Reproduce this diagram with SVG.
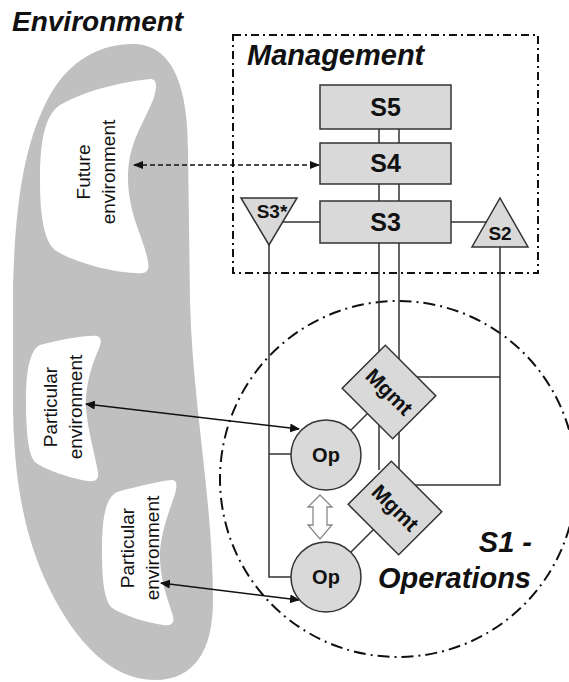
<svg xmlns="http://www.w3.org/2000/svg" width="569" height="682" viewBox="0 0 569 682">
<defs>
<style>
.title{font-family:"Liberation Sans",Arial,sans-serif;font-weight:bold;font-style:italic;fill:#111}
.env{font-family:"Liberation Sans",Arial,sans-serif;font-size:19px;fill:#111;text-anchor:middle}
.lbl{font-family:"Liberation Sans",Arial,sans-serif;font-weight:bold;fill:#111;text-anchor:middle}
.node{fill:#d9d9d9;stroke:#333;stroke-width:1.5}
.ln{stroke:#333;stroke-width:1.5;fill:none}
.arr{stroke:#111;stroke-width:1.6;fill:none}
</style>
<marker id="ah" viewBox="0 0 10 10" refX="9" refY="5" markerWidth="10" markerHeight="10" markerUnits="userSpaceOnUse" orient="auto-start-reverse">
<path d="M0,0.5 L10,5 L0,9.5 Z" fill="#111"/>
</marker>
<marker id="ahs" viewBox="0 0 10 10" refX="9" refY="5" markerWidth="10" markerHeight="10" markerUnits="userSpaceOnUse" orient="auto-start-reverse">
<path d="M0,1 L10,5 L0,9 Z" fill="#111"/>
</marker>
</defs>
<rect width="569" height="682" fill="#fff"/>

<g id="environment">
<path d="M133,44 C172,44 188,85 188,150 L190,300 C192,400 213,500 213,600 C213,650 195,680 155,680 C110,680 75,640 50,590 C25,540 13,480 13,400 L13,290 C15,200 25,140 50,95 C70,60 100,44 133,44 Z" fill="#c0c0c0"/>
<text class="title" x="12" y="31" font-size="28">Environment</text>
</g>

<g id="future-env">
<path d="M60,105 C90,88 130,81 150,79 C158,79 157,88 153,100 C143,125 128,143 128,178 C128,215 145,240 148,262 C150,272 145,274 135,273 C110,272 75,262 58,252 C45,245 40,220 40,180 C40,140 45,115 60,105 Z" fill="#fff"/>
<g transform="translate(90,172) rotate(-90)">
<text class="env" x="0" y="0">Future</text>
<text class="env" x="0" y="25">environment</text>
</g>
</g>

<g id="particular-env-1">
<path d="M40,345 C60,340 85,335 97,336 C103,337 101,345 97,353 C90,370 85,390 86,407 C87,427 95,455 98,472 C99,480 95,482 88,481 C70,478 45,470 35,462 C28,455 26,430 26,400 C26,370 30,350 40,345 Z" fill="#fff"/>
<g transform="translate(57,407) rotate(-90)">
<text class="env" x="0" y="0">Particular</text>
<text class="env" x="0" y="25">environment</text>
</g>
</g>

<g id="particular-env-2">
<path d="M117,492 C135,487 160,481 172,480 C178,480 177,488 174,497 C166,520 159,540 160,560 C161,585 170,605 173,616 C175,624 170,626 163,625 C145,622 125,616 112,608 C104,600 102,580 102,550 C102,520 105,498 117,492 Z" fill="#fff"/>
<g transform="translate(134,548) rotate(-90)">
<text class="env" x="0" y="0">Particular</text>
<text class="env" x="0" y="25">environment</text>
</g>
</g>

<g id="s1-operations">
<circle cx="398" cy="479" r="178" fill="none" stroke="#111" stroke-width="2" stroke-dasharray="12 5 2 5"/>
<text class="title" x="532" y="552" font-size="29" text-anchor="end">S1 -</text>
<text class="title" x="531" y="588" font-size="29" text-anchor="end">Operations</text>
</g>

<g id="management">
<rect x="233" y="35" width="305" height="238" fill="none" stroke="#111" stroke-width="2" stroke-dasharray="8 4 2 4"/>
<text class="title" x="247" y="65" font-size="29">Management</text>
</g>

<g id="connectors">
<path class="ln" d="M379,129 V143 M399,129 V143 M379,184 V201 M399,184 V201 M379,243 V470 M399,243 V485 H500 V247 M416,377 H500"/>
<path class="ln" d="M283,222 H320 M451,222 H488"/>
<path class="ln" d="M269,245 V577 H291 M269,454 H291"/>
<path class="ln" d="M326,455 L389,392 M326,577 L395,508"/>
<path class="arr" d="M134,165 H319" stroke-dasharray="5 3" marker-start="url(#ahs)" marker-end="url(#ahs)"/>
<path class="arr" d="M86,404 L299,429" marker-start="url(#ah)" marker-end="url(#ah)"/>
<path class="arr" d="M161,583 L299,600" marker-start="url(#ah)" marker-end="url(#ah)"/>
<path d="M320,495 L332,507 L327,507 L327,525 L332,525 L320,539 L308,525 L313,525 L313,507 L308,507 Z" fill="#fff" stroke="#888" stroke-width="1.3"/>
</g>

<g id="s5">
<rect class="node" x="320" y="85" width="131" height="44"/>
<text class="lbl" x="385.5" y="116" font-size="25">S5</text>
</g>
<g id="s4">
<rect class="node" x="320" y="143" width="131" height="41"/>
<text class="lbl" x="385.5" y="172" font-size="25">S4</text>
</g>
<g id="s3">
<rect class="node" x="320" y="201" width="131" height="42"/>
<text class="lbl" x="385.5" y="231" font-size="25">S3</text>
</g>
<g id="s3star">
<path class="node" d="M241,198 L297,198 L269,245 Z"/>
<text class="lbl" x="272" y="218" font-size="19">S3*</text>
</g>
<g id="s2">
<path class="node" d="M500,198 L528,247 L472,247 Z"/>
<text class="lbl" x="500" y="240" font-size="19">S2</text>
</g>
<g id="mgmt-1" transform="translate(389,392) rotate(45)">
<rect class="node" x="-35.7" y="-30.5" width="71.4" height="61"/>
<text class="lbl" x="0" y="7" font-size="21">Mgmt</text>
</g>
<g id="mgmt-2" transform="translate(395,508) rotate(45)">
<rect class="node" x="-35.7" y="-30.5" width="71.4" height="61"/>
<text class="lbl" x="0" y="7" font-size="21">Mgmt</text>
</g>
<g id="op-1">
<circle class="node" cx="326" cy="455" r="35"/>
<text class="lbl" x="326" y="462" font-size="20">Op</text>
</g>
<g id="op-2">
<circle class="node" cx="326" cy="577" r="35"/>
<text class="lbl" x="326" y="584" font-size="20">Op</text>
</g>
</svg>
